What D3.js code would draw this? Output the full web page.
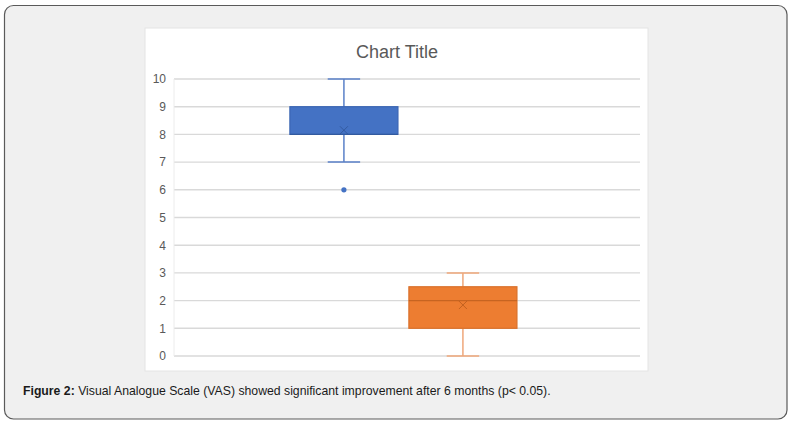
<!DOCTYPE html>
<html><head><meta charset="utf-8">
<script src="https://cdn.jsdelivr.net/npm/d3@7"></script>
<style>html,body{margin:0;padding:0;background:#fff;}</style>
</head><body>
<script>
// ---- data ----
const series = ["Before treatment", "After 6 months"];
const minValues = [7, 0];
const q1Values = [8, 1];
const medianValues = [8, 2];
const q3Values = [9, 2.5];
const maxValues = [10, 3];
const meanValues = [8.15, 1.84];
const outliers = [[6], []];
const yTicks = [0, 1, 2, 3, 4, 5, 6, 7, 8, 9, 10];
const chartTitle = "Chart Title";
const captionBold = "Figure 2:";
const captionText = " Visual Analogue Scale (VAS) showed significant improvement after 6 months (p< 0.05).";

// ---- styles ----
const fills = ["#4472C4", "#ED7D31"];
const strokes = ["#3B65B3", "#D9712B"];
const whiskerCol = ["#5A80C8", "#EFA77A"];
const meanCol = ["#2F5597", "#B75A1B"];

const W = 796, H = 425;
const svg = d3.select("body").append("svg").attr("width", W).attr("height", H);

// outer panel
svg.append("rect").attr("x", 4.5).attr("y", 5.5).attr("width", 782.5).attr("height", 413.5)
  .attr("rx", 9).attr("fill", "#f0f0f0").attr("stroke", "#5a5a5a").attr("stroke-width", 1.2);
// chart area
svg.append("rect").attr("x", 145).attr("y", 28).attr("width", 503).attr("height", 343)
  .attr("fill", "#ffffff").attr("stroke", "#e4e4e4").attr("stroke-width", 1);

const plot = {left: 174, right: 640, top: 79, bottom: 356};
const y = d3.scaleLinear().domain([0, 10]).range([plot.bottom, plot.top]);
const x = d3.scaleBand().domain(series).range([plot.left, plot.right])
  .paddingInner(0.092).paddingOuter(1.004).align(0.485);

// gridlines
svg.append("g").selectAll("line").data(yTicks).join("line")
  .attr("x1", plot.left).attr("x2", plot.right)
  .attr("y1", d => y(d)).attr("y2", d => y(d))
  .attr("stroke", "#d9d9d9").attr("stroke-width", 1.4);
svg.append("line").attr("x1", plot.left).attr("x2", plot.left)
  .attr("y1", plot.top).attr("y2", plot.bottom).attr("stroke", "#ececec").attr("stroke-width", 1);

// y axis labels
const yAxis = d3.axisLeft(y).tickValues(yTicks).tickSize(0).tickPadding(8).tickFormat(d3.format("d"));
const ga = svg.append("g").attr("transform", `translate(${plot.left},0)`).call(yAxis);
ga.select(".domain").remove();
ga.selectAll("text").attr("font-family", "Liberation Sans, Arial, sans-serif")
  .attr("font-size", 12).attr("fill", "#595959");

// title
svg.append("text").attr("x", 397).attr("y", 58).attr("text-anchor", "middle")
  .attr("font-family", "Liberation Sans, Arial, sans-serif").attr("font-size", 18)
  .attr("fill", "#595959").text(chartTitle);

// boxes
const bw = x.bandwidth();
const capW = bw * 0.3;
series.forEach((s, i) => {
  const cx = x(s) + bw / 2;
  const g = svg.append("g");
  // whiskers
  g.append("line").attr("x1", cx).attr("x2", cx).attr("y1", y(maxValues[i])).attr("y2", y(q3Values[i]))
    .attr("stroke", whiskerCol[i]).attr("stroke-width", 1.5);
  g.append("line").attr("x1", cx).attr("x2", cx).attr("y1", y(q1Values[i])).attr("y2", y(minValues[i]))
    .attr("stroke", whiskerCol[i]).attr("stroke-width", 1.5);
  [maxValues[i], minValues[i]].forEach(v => {
    g.append("line").attr("x1", cx - capW / 2).attr("x2", cx + capW / 2).attr("y1", y(v)).attr("y2", y(v))
      .attr("stroke", whiskerCol[i]).attr("stroke-width", 1.5);
  });
  // box
  g.append("rect").attr("x", x(s)).attr("y", y(q3Values[i])).attr("width", bw)
    .attr("height", y(q1Values[i]) - y(q3Values[i]))
    .attr("fill", fills[i]).attr("stroke", strokes[i]).attr("stroke-width", 1.2);
  // median
  g.append("line").attr("x1", x(s)).attr("x2", x(s) + bw).attr("y1", y(medianValues[i])).attr("y2", y(medianValues[i]))
    .attr("stroke", meanCol[i]).attr("stroke-width", 1.2).attr("stroke-opacity", 0.7);
  // mean X
  const my = y(meanValues[i]), m = 4;
  g.append("path").attr("d", `M${cx - m},${my - m}L${cx + m},${my + m}M${cx - m},${my + m}L${cx + m},${my - m}`)
    .attr("stroke", meanCol[i]).attr("stroke-width", 1).attr("stroke-opacity", 0.8).attr("fill", "none");
  // outliers
  g.selectAll("circle").data(outliers[i]).join("circle")
    .attr("cx", cx).attr("cy", d => y(d)).attr("r", 2.6).attr("fill", fills[i]);
});

// caption
const cap = svg.append("text").attr("x", 23).attr("y", 395)
  .attr("font-family", "Liberation Sans, Arial, sans-serif").attr("font-size", 12.25).attr("fill", "#1a1a1a");
cap.append("tspan").attr("font-weight", "bold").text(captionBold);
cap.append("tspan").text(captionText);
</script>
</body></html>
